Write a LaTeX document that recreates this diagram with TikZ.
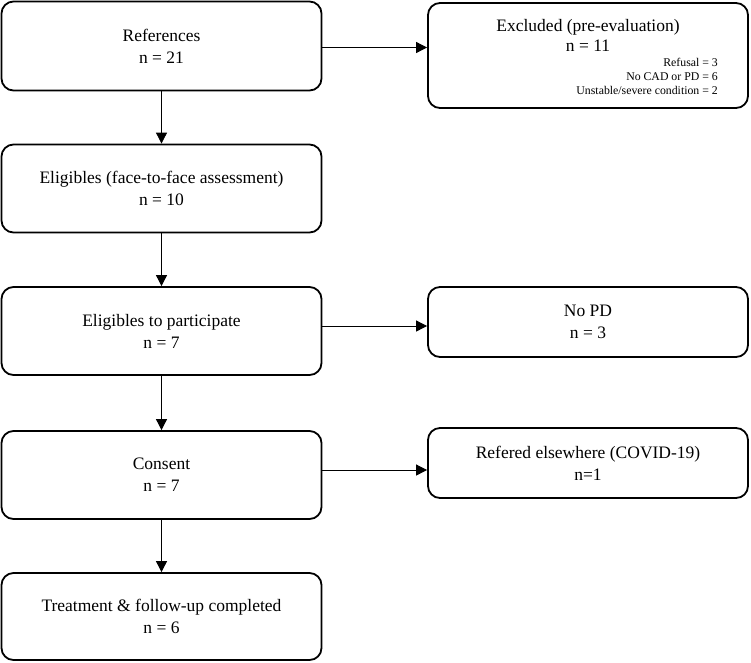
\documentclass[tikz,border=0pt]{standalone}
\usepackage{fontspec}
\setmainfont{Liberation Serif}
\usetikzlibrary{arrows.meta}

\begin{document}
\begin{tikzpicture}[x=1pt,y=-1pt,
	box/.style={draw,line width=1.8pt,rounded corners=12pt,minimum width=320pt,inner sep=0pt,align=center,font=\fontsize{17.5}{22}\selectfont},
	arr/.style={-{Triangle[length=11pt,width=11pt]},line width=0.8pt}]
	\useasboundingbox (0,0) rectangle (751,662);
	% left column
	\node[box,minimum height=89pt] (ref) at (161.5,46) {References\\n = 21};
	\node[box,minimum height=88pt] (elig) at (161.5,188.5) {Eligibles (face-to-face assessment)\\n = 10};
	\node[box,minimum height=88pt] (part) at (161.5,331) {Eligibles to participate\\n = 7};
	\node[box,minimum height=88pt] (cons) at (161.5,475) {Consent\\n = 7};
	\node[box,minimum height=87pt] (treat) at (161.5,616.5) {Treatment \& follow-up completed\\n = 6};
	% right column
	\node[box,minimum height=105pt] (excl) at (588,55.5) {};
	\node[align=center,inner sep=0pt,font=\fontsize{17.5}{20}\selectfont] (excltitle) at (588,35) {Excluded (pre-evaluation)\\n = 11};
	\node[anchor=east,align=right,inner sep=0pt,font=\fontsize{11.8}{14}\selectfont] (exclnote) at (718,76) {Refusal = 3\\No CAD or PD = 6\\Unstable/severe condition = 2};
	\node[box,minimum height=70pt] (nopd) at (588,322) {No PD\\n = 3};
	\node[box,minimum height=70pt] (refd) at (588,463) {Refered elsewhere (COVID-19)\\n=1};
	% arrows
	\draw[arr] (ref) -- (elig);
	\draw[arr] (elig) -- (part);
	\draw[arr] (part) -- (cons);
	\draw[arr] (cons) -- (treat);
	\draw[arr] ([yshift=-1.5pt]ref.east) -- ([yshift=-1.5pt]ref.east -| excl.west);
	\draw[arr] ([yshift=5pt]part.east) -- ([yshift=5pt]part.east -| nopd.west);
	\draw[arr] ([yshift=5pt]cons.east) -- ([yshift=5pt]cons.east -| refd.west);
\end{tikzpicture}
\end{document}
